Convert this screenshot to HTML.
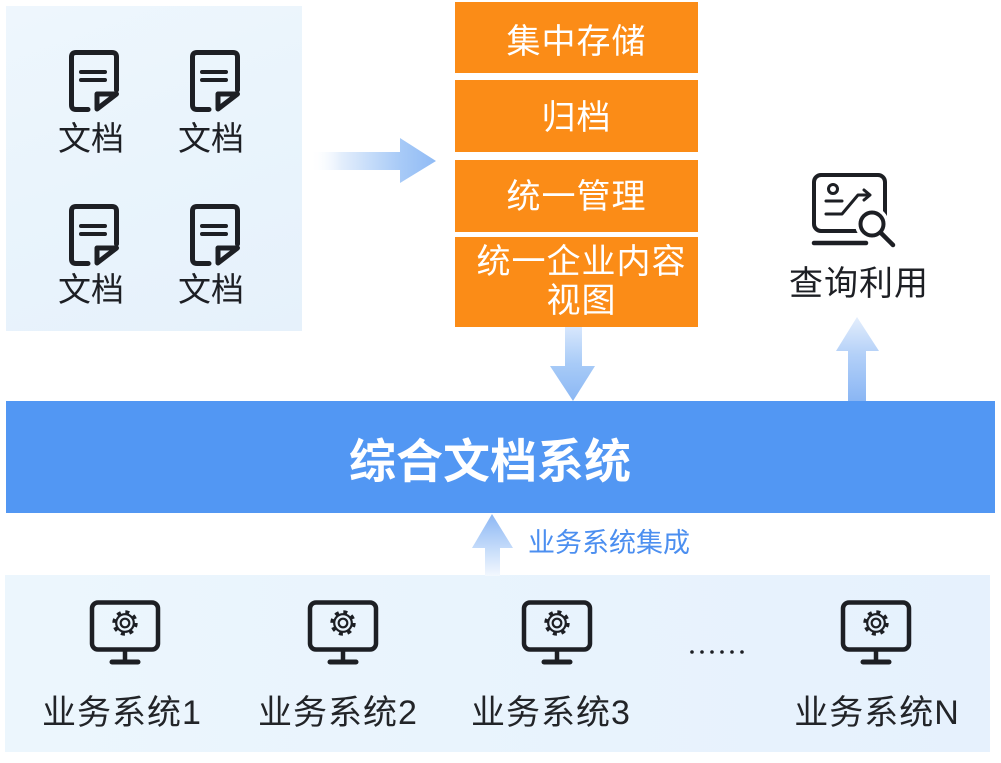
<!DOCTYPE html>
<html>
<head>
<meta charset="utf-8">
<style>
  html,body{margin:0;padding:0;}
  body{width:1001px;height:763px;position:relative;background:#ffffff;overflow:hidden;
       font-family:"Liberation Sans","Noto Sans CJK SC",sans-serif;}
  .abs{position:absolute;}
  .panel-top{left:6px;top:6px;width:296px;height:325px;
       background:linear-gradient(160deg,#eef6fd 0%,#e9f4fc 50%,#e6f1fb 100%);}
  .panel-bot{left:5px;top:575px;width:985px;height:177px;
       background:linear-gradient(90deg,#ecf6fd 0%,#e8f3fd 60%,#e6f1fd 100%);}
  .band{left:6px;top:401px;width:989px;height:112px;background:#5297f3;}
  .ob{left:455px;width:243px;background:#fb8c17;}
  .t{position:absolute;text-align:center;white-space:nowrap;}
  .doc{font-size:33px;line-height:33px;color:#1d1f24;width:100px;}
  .ot{font-size:34px;line-height:34px;color:#ffffff;left:455px;width:243px;}
  .bl{font-size:34px;line-height:34px;color:#222428;width:220px;}
</style>
</head>
<body>

<div class="abs panel-top"></div>
<div class="abs panel-bot"></div>
<div class="abs band"></div>

<div class="abs ob" style="top:2px;height:71px;"></div>
<div class="abs ob" style="top:80px;height:72px;"></div>
<div class="abs ob" style="top:160px;height:72px;"></div>
<div class="abs ob" style="top:237px;height:90px;"></div>

<svg class="abs" style="left:0;top:0" width="1001" height="763" viewBox="0 0 1001 763">
  <defs>
    <linearGradient id="gH" x1="310" y1="0" x2="436" y2="0" gradientUnits="userSpaceOnUse">
      <stop offset="0" stop-color="#ffffff" stop-opacity="0"/>
      <stop offset="0.25" stop-color="#e3eefc"/>
      <stop offset="0.7" stop-color="#a9cbf7"/>
      <stop offset="1" stop-color="#90bbf5"/>
    </linearGradient>
    <linearGradient id="gD" x1="0" y1="328" x2="0" y2="400" gradientUnits="userSpaceOnUse">
      <stop offset="0" stop-color="#d6e6fc"/>
      <stop offset="0.5" stop-color="#a8cbf7"/>
      <stop offset="1" stop-color="#8cb8f4"/>
    </linearGradient>
    <linearGradient id="gU" x1="0" y1="317" x2="0" y2="401" gradientUnits="userSpaceOnUse">
      <stop offset="0" stop-color="#e4eefc"/>
      <stop offset="0.45" stop-color="#b3d0f8"/>
      <stop offset="1" stop-color="#8ab6f4"/>
    </linearGradient>
    <linearGradient id="gB" x1="0" y1="514" x2="0" y2="576" gradientUnits="userSpaceOnUse">
      <stop offset="0" stop-color="#8cb7f4"/>
      <stop offset="0.55" stop-color="#c4dbfa"/>
      <stop offset="1" stop-color="#f3f8fe"/>
    </linearGradient>

    <g id="doc" fill="none" stroke="#1d1f24" stroke-linecap="round" stroke-linejoin="round">
      <path d="M19,59.5 H7 Q2.5,59.5 2.5,55 V7 Q2.5,2.5 7,2.5 H43 Q47.5,2.5 47.5,7 V40" stroke-width="5"/>
      <path d="M28,59 V44 H47.5 Z" stroke-width="5"/>
      <path d="M12,22 H36 M12,30 H36" stroke-width="4"/>
    </g>

    <g id="mon" fill="none" stroke="#1d1f24" stroke-linecap="round" stroke-linejoin="round">
      <rect x="-33" y="2.5" width="66" height="47" rx="6" stroke-width="4.5"/>
      <path d="M0,50 V61" stroke-width="4.5" stroke-linecap="butt"/>
      <path d="M-13,62 H13" stroke-width="5"/>
      <circle cx="0" cy="23" r="11" stroke-width="3.4" stroke-dasharray="4 4.64" stroke-linecap="butt"/>
      <circle cx="0" cy="23" r="8.8" stroke-width="2.2"/>
      <circle cx="0" cy="23" r="4.3" stroke-width="2.2"/>
    </g>
  </defs>

  <!-- doc icons -->
  <use href="#doc" x="69" y="50"/>
  <use href="#doc" x="190" y="50"/>
  <use href="#doc" x="69" y="204"/>
  <use href="#doc" x="190" y="204"/>

  <!-- horizontal arrow -->
  <rect x="310" y="152" width="92" height="18" fill="url(#gH)"/>
  <polygon points="400,138 436,161 400,183" fill="url(#gH)"/>

  <!-- down arrow -->
  <rect x="565" y="327" width="17" height="40" fill="url(#gD)"/>
  <polygon points="550,366 595,366 573,401" fill="url(#gD)"/>

  <!-- up arrow right -->
  <polygon points="857,317 879,351 836,351" fill="url(#gU)"/>
  <rect x="848" y="350" width="18" height="51" fill="url(#gU)"/>

  <!-- bottom up arrow -->
  <polygon points="492,514 513,548 472,548" fill="url(#gB)"/>
  <rect x="485" y="547" width="15" height="29" fill="url(#gB)"/>

  <!-- query icon -->
  <g fill="none" stroke="#1d1f24" stroke-linecap="round" stroke-linejoin="round">
    <rect x="814" y="175" width="71" height="56" rx="7" stroke-width="4"/>
    <path d="M814,243 H866" stroke-width="4.5"/>
    <circle cx="833" cy="189" r="4.5" stroke-width="3"/>
    <path d="M826,201 H842" stroke-width="3"/>
    <path d="M826,214 H842 L858,195 H869" stroke-width="3"/>
    <path d="M864,190 L870,195 L864,200" stroke-width="3"/>
    <circle cx="872" cy="224" r="14" fill="#ffffff" stroke="#ffffff" stroke-width="6"/>
    <circle cx="872" cy="224" r="11.5" stroke-width="4"/>
    <path d="M881,233 L893,245" stroke-width="4.5"/>
  </g>

  <!-- monitors -->
  <use href="#mon" x="125" y="600"/>
  <use href="#mon" x="343" y="600"/>
  <use href="#mon" x="557" y="600"/>
  <use href="#mon" x="876" y="600"/>

  <!-- dots -->
  <g fill="#1d1f24">
    <circle cx="692" cy="652" r="1.8"/>
    <circle cx="702" cy="652" r="1.8"/>
    <circle cx="712" cy="652" r="1.8"/>
    <circle cx="722" cy="652" r="1.8"/>
    <circle cx="732" cy="652" r="1.8"/>
    <circle cx="742" cy="652" r="1.8"/>
  </g>
</svg>

<!-- doc labels -->
<div class="t doc" style="left:41px;top:122px;">文档</div>
<div class="t doc" style="left:161px;top:122px;">文档</div>
<div class="t doc" style="left:41px;top:273px;">文档</div>
<div class="t doc" style="left:161px;top:273px;">文档</div>

<!-- orange labels -->
<div class="t ot" style="top:25px;letter-spacing:1px;">集中存储</div>
<div class="t ot" style="top:101px;letter-spacing:1px;">归档</div>
<div class="t ot" style="top:180px;letter-spacing:1px;">统一管理</div>
<div class="t ot" style="top:243px;line-height:39px;letter-spacing:1px;left:460px;">统一企业内容<br>视图</div>

<!-- query label -->
<div class="t" style="left:759px;width:200px;top:267px;font-size:34px;line-height:34px;color:#1d1f24;letter-spacing:1px;">查询利用</div>

<!-- band label -->
<div class="t" style="left:240px;width:500px;top:438px;font-size:47px;line-height:47px;font-weight:bold;color:#ffffff;">综合文档系统</div>

<!-- integration label -->
<div class="t" style="left:509px;width:200px;top:530px;font-size:27px;line-height:27px;color:#4c8ff0;">业务系统集成</div>

<!-- bottom labels -->
<div class="t bl" style="left:12px;top:696px;letter-spacing:1px;">业务系统1</div>
<div class="t bl" style="left:228px;top:696px;letter-spacing:1px;">业务系统2</div>
<div class="t bl" style="left:441px;top:696px;letter-spacing:1px;">业务系统3</div>
<div class="t bl" style="left:767px;top:696px;letter-spacing:1px;">业务系统N</div>

</body>
</html>
